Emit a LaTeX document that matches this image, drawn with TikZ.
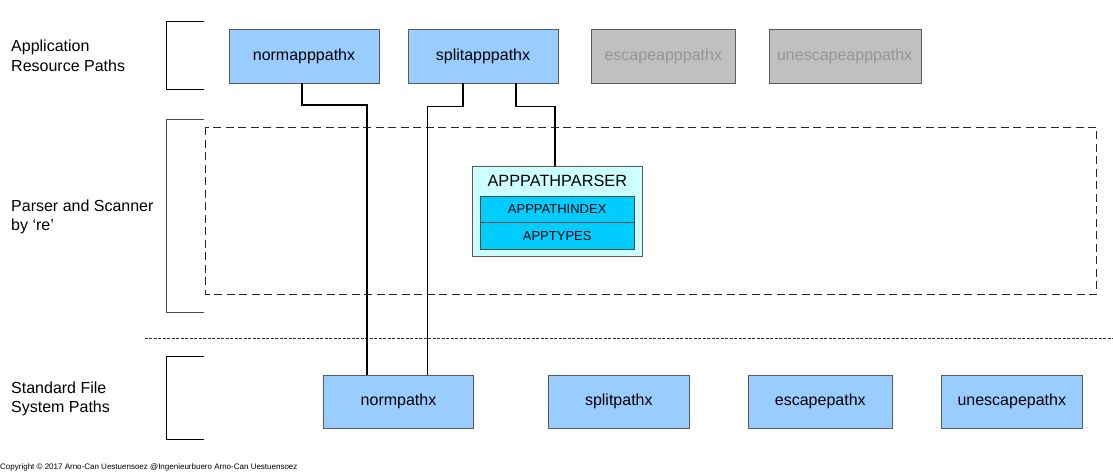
\documentclass[tikz,border=0pt]{standalone}
\usepackage{fontspec}
\setmainfont{Liberation Sans}
\usepackage{tikz}
\usetikzlibrary{calc,positioning}
\definecolor{pathblue}{HTML}{99CCFF}
\definecolor{parserfill}{HTML}{CCFFFF}
\definecolor{parseritem}{HTML}{00CCFF}
\definecolor{offfill}{HTML}{C0C0C0}
\definecolor{offtext}{HTML}{959595}
\definecolor{boxline}{HTML}{5A5A5A}

\begin{document}
\begin{tikzpicture}[x=1pt,y=-1pt,
  pbox/.style={draw=boxline,fill=pathblue,minimum width=150pt,minimum height=54pt,inner sep=0pt,font=\fontsize{16}{19.5}\selectfont},
  offbox/.style={pbox,fill=offfill,text=offtext},
  itembox/.style={draw=black!70,fill=parseritem,minimum width=154pt,inner sep=0pt,font=\fontsize{13}{15}\selectfont},
  lab/.style={anchor=west,align=left,inner sep=0pt,font=\fontsize{16}{19.5}\selectfont},
  brk/.style={line width=1pt},
  conn/.style={line width=1.3pt}]
\useasboundingbox (0,0) rectangle (1113,474);
\node[lab] (applab) at (11,55.8) {Application\\Resource Paths};
\node[lab] (parselab) at (11,217) {Parser and Scanner\\by ‘re’};
\node[lab] (stdlab) at (11,399) {Standard File\\System Paths};
\draw[brk] (204,21) -- (166.5,21) -- (166.5,89) -- (204,89);
\draw[brk,black!70] (204,119.5) -- (166.5,119.5) -- (166.5,312.5) -- (204,312.5);
\draw[brk] (204,356) -- (166.5,356) -- (166.5,439) -- (204,439);
\draw[line width=1pt,black!85,dash pattern=on 8pt off 4.5pt] (205.7,127.3) rectangle (1096.7,294);
\draw[line width=1.2pt,black!80,dash pattern=on 3pt off 1.5pt] (144.7,338.7) -- (1113,338.7);
\node[pbox] (normapp) at (304,56) {normapppathx};
\node[pbox] (splitapp) at (483,56) {splitapppathx};
\node[offbox,minimum width=144pt] (escapeapp) at (663.3,56) {escapeapppathx};
\node[offbox,minimum width=152pt] (unescapeapp) at (844.7,56) {unescapeapppathx};
\node[draw=boxline,fill=parserfill,minimum width=170pt,minimum height=90.5pt] (parser) at (557.3,211) {};
\node[inner sep=0pt,font=\fontsize{16.3}{19.5}\selectfont] (parsertitle) at (557.3,180.5) {APPPATHPARSER};
\node[itembox,minimum height=26.3pt] (pindex) at (557.2,209.2) {APPPATHINDEX};
\node[itembox,minimum height=26.7pt] (ptypes) at (557.2,235.6) {APPTYPES};
\node[pbox,minimum height=53pt] (normp) at (398.5,401.5) {normpathx};
\node[pbox,minimum width=141pt,minimum height=53pt] (splitp) at (618.8,401.5) {splitpathx};
\node[pbox,minimum width=144pt,minimum height=53pt] (escapep) at (820.3,401.5) {escapepathx};
\node[pbox,minimum width=141pt,minimum height=53pt] (unescapep) at (1011.8,401.5) {unescapepathx};
\coordinate (na) at (367,105);
\coordinate (sa) at (427.3,106.7);
\coordinate (sb) at (555,106.7);
\draw[conn] ([xshift=-2pt]normapp.south) |- (na) -- (na |- normp.north);
\draw[conn] ([xshift=-20pt]splitapp.south) |- (sa) -- (sa |- normp.north);
\draw[conn] ([xshift=33pt]splitapp.south) |- (sb) -- (sb |- parser.north);
\node[anchor=base west,inner sep=0pt,font=\fontsize{8}{9.5}\selectfont] (copyright) at (0,469.3) {Copyright © 2017 Arno-Can Uestuensoez @Ingenieurbuero Arno-Can Uestuensoez};
\end{tikzpicture}
\end{document}
